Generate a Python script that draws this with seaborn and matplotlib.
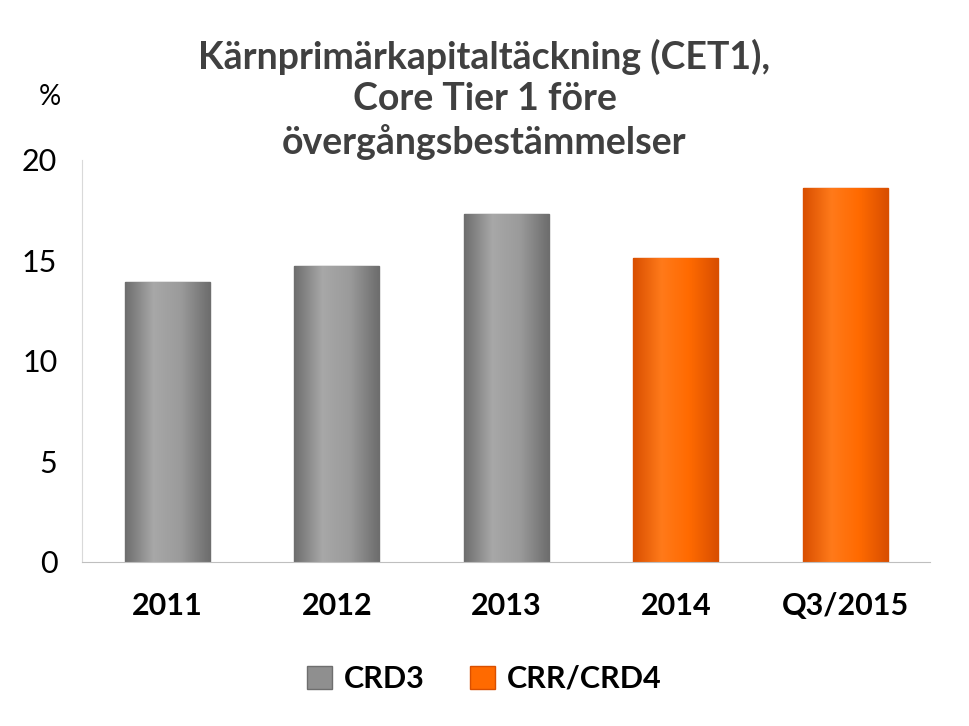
import numpy as np
import pandas as pd
import matplotlib
matplotlib.use("Agg")
import matplotlib.pyplot as plt
import matplotlib.patches as mpatches
from matplotlib.colors import LinearSegmentedColormap
import seaborn as sns

# ---- data ----
categories = ["2011", "2012", "2013", "2014", "Q3/2015"]
values = [13.9, 14.7, 17.3, 15.1, 18.6]
regime = ["CRD3", "CRD3", "CRD3", "CRR/CRD4", "CRR/CRD4"]
y_ticks = [0, 5, 10, 15, 20]

colors = {"CRD3": "#8f8f8f", "CRR/CRD4": "#ff6a00"}
grads = {
    "CRD3": ["#6e6e6e", "#a8a8a8", "#9a9a9a", "#6e6e6e"],
    "CRR/CRD4": ["#d94f00", "#ff7a1a", "#ff6a00", "#d94f00"],
}
font = "Lato"

df = pd.DataFrame({"cat": categories, "val": values, "reg": regime})

fig = plt.figure(figsize=(9.69, 7.26), dpi=100)
ax = fig.add_axes([0.085, 0.226, 0.875, 0.554])
sns.barplot(data=df, x="cat", y="val", hue="reg", palette=colors,
            dodge=False, width=0.5, legend=False, ax=ax, saturation=1)

# gradient fill inside each bar
for patch, reg in zip(ax.patches, df["reg"]):
    x0, y0 = patch.get_x(), patch.get_y()
    w, h = patch.get_width(), patch.get_height()
    cmap = LinearSegmentedColormap.from_list(reg, grads[reg])
    im = ax.imshow(np.linspace(0, 1, 100).reshape(1, -1), cmap=cmap,
                   extent=[x0, x0 + w, y0, y0 + h], aspect="auto", zorder=2)
    im.set_clip_path(patch)
    patch.set_edgecolor(grads[reg][0])
    patch.set_linewidth(1.0)

ax.set_xlim(-0.5, len(categories) - 0.5)
ax.set_ylim(0, 20)
ax.set_yticks(y_ticks)
ax.set_xlabel("")
ax.set_ylabel("")
for s in ["top", "right"]:
    ax.spines[s].set_visible(False)
ax.spines["left"].set_color("#d9d9d9")
ax.spines["bottom"].set_color("#bfbfbf")
ax.tick_params(axis="both", length=0)
ax.tick_params(axis="y", labelsize=22, pad=18)
ax.tick_params(axis="x", labelsize=22, pad=22)
for t in ax.get_yticklabels():
    t.set_fontfamily(font)
for t in ax.get_xticklabels():
    t.set_fontfamily(font)
    t.set_fontweight("bold")

fig.text(0.04, 0.855, "%", fontsize=20, fontfamily=font)
fig.text(0.5, 0.78, "Kärnprimärkapitaltäckning (CET1),\nCore Tier 1 före\növergångsbestämmelser",
         ha="center", va="bottom", fontsize=27, fontweight="bold",
         color="#404040", fontfamily=font, linespacing=1.25)

handles = [mpatches.Patch(facecolor=colors[k], edgecolor=grads[k][0], label=k)
           for k in ["CRD3", "CRR/CRD4"]]
fig.legend(handles=handles, loc="center", bbox_to_anchor=(0.5, 0.065), ncol=2,
           frameon=False, prop={"family": font, "weight": "bold", "size": 22},
           handlelength=0.8, handleheight=0.8, columnspacing=1.5, handletextpad=0.4)

fig.savefig("out.png", dpi=100)
